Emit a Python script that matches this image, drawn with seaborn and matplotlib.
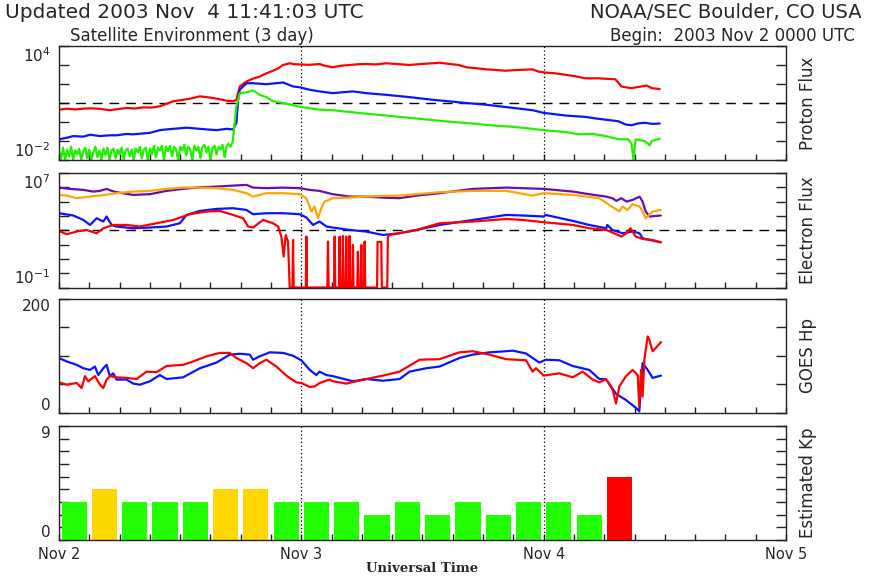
import numpy as np
import matplotlib
matplotlib.use("Agg")
import matplotlib.pyplot as plt
import seaborn as sns
from matplotlib.ticker import FixedLocator, NullLocator, FuncFormatter

# ---------------------------------------------------------------
# Hours since 2003 Nov 2 00:00 UTC; flux values are given as log10
# ---------------------------------------------------------------

# Proton flux  (>=10 MeV red, >=50 MeV blue, >=100 MeV green)
p10_t = [0.0, 0.8, 1.6, 2.4, 3.2, 4.06, 5.04, 5.8, 6.69, 7.5, 8.34, 9.2, 9.99, 10.6,
         11.31, 12.3, 13.1, 13.95, 14.6, 15.27, 15.9, 16.58, 17.24, 17.57, 17.9, 18.56,
         19.2, 19.88, 20.5, 21.2, 21.7, 22.19, 22.85, 23.3, 23.84, 24.8, 25.8, 26.4,
         27.1, 27.9, 28.8, 29.6, 30.4, 31.4, 32.4, 33.5, 34.7, 35.8, 37.0, 37.7,
         38.6, 39.6, 40.3, 41.3, 42.3, 43.2, 44.2, 45.5, 46.9, 47.5, 48.2, 49.2,
         50.2, 51.2, 52.1, 53.4, 54.3, 55.1, 55.7, 56.2, 56.7, 57.2, 57.7, 58.2,
         58.7, 59.1, 59.5]
p10_v = [0.65, 0.70, 0.66, 0.70, 0.72, 0.69, 0.62, 0.68, 0.74, 0.71, 0.77, 0.76, 0.83, 0.95,
         1.09, 1.17, 1.24, 1.35, 1.31, 1.26, 1.20, 1.12, 1.09, 1.17, 1.87, 2.13,
         2.28, 2.39, 2.55, 2.70, 2.82, 3.00, 3.09, 3.04, 3.03, 3.01, 3.05, 2.95,
         2.88, 2.96, 3.00, 3.04, 3.05, 3.03, 3.09, 3.05, 3.00, 3.05, 3.09, 3.12,
         3.06, 3.00, 2.88, 2.83, 2.77, 2.74, 2.70, 2.74, 2.77, 2.65, 2.60, 2.56,
         2.48, 2.40, 2.30, 2.30, 2.27, 2.25, 1.87, 1.82, 1.78, 1.83, 1.87, 1.92,
         1.78, 1.76, 1.73]

p50_t = [0.0, 0.76, 1.42, 2.41, 3.07, 4.06, 5.04, 5.70, 6.69, 7.35, 8.34, 9.0, 9.99,
         10.65, 11.31, 12.63, 13.95, 15.6, 16.58, 17.24, 17.57, 17.74, 17.9, 18.56,
         19.22, 20.54, 22.19, 23.18, 23.84, 24.8, 25.8, 27.1, 29.1, 30.4, 32.4, 34.7,
         37.0, 38.6, 40.3, 42.3, 44.2, 46.9, 48.0, 50.2, 52.1, 53.4, 55.4, 56.1,
         56.7, 57.3, 58.0, 58.8, 59.5]
p50_v = [-0.91, -0.83, -0.74, -0.77, -0.67, -0.74, -0.70, -0.70, -0.63, -0.65, -0.60, -0.57, -0.43,
         -0.39, -0.36, -0.30, -0.36, -0.43, -0.36, -0.39, -0.04, 1.17, 1.70, 2.04,
         2.04, 1.99, 2.08, 1.87, 1.83, 1.70, 1.61, 1.52, 1.61, 1.52, 1.43, 1.31,
         1.17, 1.09, 1.00, 0.91, 0.79, 0.62, 0.48, 0.34, 0.27, 0.17, 0.04, -0.13,
         -0.17, -0.08, -0.04, -0.10, -0.08]

p100_t = [0.0, 0.2, 0.4, 0.6, 0.8, 1.0, 1.2, 1.4, 1.6, 1.8, 2.0, 2.2, 2.4, 2.6, 2.8,
          3.0, 3.2, 3.4, 3.6, 3.8, 4.0, 4.2, 4.4, 4.6, 4.8, 5.0, 5.2, 5.4, 5.6, 5.8,
          6.0, 6.2, 6.4, 6.6, 6.8, 7.0, 7.2, 7.4, 7.6, 7.8, 8.0, 8.2, 8.4, 8.6, 8.8,
          9.0, 9.2, 9.4, 9.6, 9.8, 10.0, 10.2, 10.4, 10.6, 10.8, 11.0, 11.2, 11.4,
          11.6, 11.8, 12.0, 12.2, 12.4, 12.6, 12.8, 13.0, 13.2, 13.4, 13.6, 13.8,
          14.0, 14.2, 14.4, 14.6, 14.8, 15.0, 15.2, 15.4, 15.6, 15.8, 16.0, 16.2,
          16.4, 16.6, 16.8, 17.0, 17.2, 17.4, 17.57, 17.9, 18.56, 19.22, 19.88,
          20.54, 21.2, 22.5, 23.84, 25.8, 27.1, 29.1, 30.4, 32.4, 34.7, 37.0, 39.0,
          40.9, 42.9, 44.9, 46.9, 48.0, 50.2, 51.5, 52.8, 54.1, 55.4, 56.4, 56.7,
          56.9, 57.1, 58.0, 58.5, 58.7, 59.5]
p100_v = [-1.55, -1.95, -1.35, -2.0, -1.45, -1.8, -1.3, -2.0, -1.5, -1.7, -1.4, -2.0, -1.55, -1.35, -1.9,
          -1.45, -2.0, -1.6, -1.3, -1.85, -1.5, -2.0, -1.4, -1.75, -1.35, -2.0, -1.5, -1.4, -1.9, -1.45,
          -1.7, -1.35, -2.0, -1.5, -1.4, -1.8, -1.45, -2.0, -1.4, -1.6, -1.3, -1.9, -1.45, -1.35, -2.0,
          -1.4, -1.7, -1.25, -1.85, -1.35, -1.5, -1.25, -2.0, -1.3, -1.55, -1.25, -1.8, -1.3,
          -1.45, -2.0, -1.3, -1.5, -1.2, -1.75, -1.3, -1.45, -2.0, -1.25, -1.5, -1.3,
          -1.9, -1.35, -1.2, -1.6, -1.3, -2.0, -1.35, -1.25, -1.7, -1.3, -1.45, -1.2,
          -1.85, -1.25, -1.15, -1.3, -1.05, -0.04, 0.83, 1.52, 1.56, 1.66, 1.43,
          1.31, 1.09, 0.97, 0.80, 0.65, 0.62, 0.51, 0.44, 0.34, 0.22, 0.10, 0.00,
          -0.08, -0.18, -0.25, -0.36, -0.43, -0.53, -0.65, -0.62, -0.74, -0.91, -0.91, -1.17,
          -2.0, -0.91, -1.00, -1.23, -1.00, -0.88]

# Electron flux (>=0.6 MeV / >=2 MeV from two spacecraft)
e_purple_t = [0.0, 1.09, 2.41, 3.40, 4.06, 4.71, 5.21, 5.70, 7.35, 9.0, 10.65, 12.3, 13.95,
              15.6, 17.24, 18.56, 19.22, 20.54, 22.19, 23.84, 24.83, 25.8, 27.1, 28.8,
              30.4, 32.1, 33.7, 35.4, 37.7, 41.0, 44.3, 45.9, 48.0, 50.9, 52.5, 54.2,
              54.8, 55.2, 55.7, 56.2, 56.8, 57.5, 57.8, 58.1, 58.5, 59.6]
e_purple_v = [5.98, 5.89, 5.82, 5.70, 5.75, 5.89, 5.75, 5.66, 5.47, 5.52, 5.75, 5.89, 6.00,
              6.05, 6.12, 6.17, 5.98, 5.94, 5.98, 5.94, 5.82, 5.75, 5.52, 5.35,
              5.35, 5.28, 5.24, 5.42, 5.59, 5.89, 5.98, 5.94, 5.89, 5.70, 5.52, 5.35,
              5.24, 5.05, 5.24, 5.00, 5.12, 5.35, 5.00, 4.31, 3.96, 4.03]

e_orange_t = [0.0, 0.76, 1.75, 3.07, 4.06, 5.70, 7.35, 9.0, 10.65, 12.3, 13.95, 15.6, 17.24,
              18.56, 19.22, 19.88, 20.54, 22.19, 23.84, 24.5, 25.0, 25.3, 25.65, 25.98,
              26.3, 27.1, 28.8, 30.4, 32.1, 33.7, 35.4, 37.7, 41.0, 44.3, 46.9, 48.0,
              50.9, 53.5, 54.5, 55.0, 55.5, 55.8, 56.3, 56.8, 57.5, 57.8, 58.1, 58.8, 59.6]
e_orange_v = [5.47, 5.42, 5.24, 5.35, 5.42, 5.59, 5.70, 5.75, 5.89, 5.98, 5.98, 5.94, 5.82,
              5.59, 5.35, 5.47, 5.59, 5.59, 5.52, 5.24, 4.31, 4.66, 3.84, 4.54,
              5.00, 5.24, 5.28, 5.35, 5.40, 5.42, 5.52, 5.66, 5.75, 5.75, 5.42, 5.59,
              5.47, 5.24, 4.77, 4.54, 4.31, 4.66, 4.42, 4.82, 4.66, 4.31, 3.84, 4.31, 4.42]

e_blue_t = [0.0, 1.42, 2.41, 3.07, 3.73, 4.39, 4.71, 5.21, 5.70, 7.35, 9.0, 10.65, 11.97,
            12.63, 13.95, 15.6, 17.24, 18.56, 19.22, 20.54, 22.19, 23.84, 24.5, 25.16,
            25.8, 26.5, 27.1, 28.8, 30.4, 32.1, 33.7, 35.4, 37.7, 41.0, 44.3, 45.9,
            48.0, 48.2, 50.9, 52.5, 54.2, 54.3, 54.8, 55.8, 56.8, 57.5, 57.8, 58.5, 59.6]
e_blue_v = [4.19, 4.03, 3.72, 3.37, 3.84, 3.61, 3.96, 3.37, 3.26, 3.14, 3.19, 3.26, 3.49,
            4.07, 4.35, 4.49, 4.54, 4.42, 4.12, 4.19, 4.19, 4.12, 3.89, 3.37,
            3.61, 3.26, 3.19, 3.02, 2.91, 2.67, 2.79, 3.02, 3.37, 3.72, 4.07, 4.03,
            3.96, 4.07, 3.65, 3.37, 3.14, 3.37, 3.02, 2.79, 2.91, 2.79, 2.44, 2.32, 2.16]

# -1.0 marks dropouts sitting on the lower edge of the plot
e_red_t = [0.0, 0.76, 1.75, 2.74, 3.73, 4.39, 5.37, 6.69, 8.01, 9.66, 11.31, 12.96, 14.61,
           15.92, 17.24, 18.23, 18.73, 19.22, 20.21, 21.2, 21.7, 22.02, 22.25, 22.45,
           22.68, 22.85, 23.12, 23.18, 23.24, 24.44, 24.5, 24.56, 26.58, 26.64, 26.7,
           27.24, 27.3, 27.36, 27.73, 27.79, 27.85, 28.06, 28.12, 28.18, 28.39, 28.45,
           28.51, 28.72, 28.78, 28.84, 29.05, 29.11, 29.17, 29.54, 29.6, 29.66, 29.88,
           29.94, 30.0, 30.21, 30.27, 30.33, 31.50, 31.55, 31.92, 31.97, 32.51, 32.57,
           32.74, 33.7, 35.4, 37.7, 41.0, 44.3, 45.9, 48.0, 50.9, 52.5, 54.2, 55.2,
           55.7, 56.2, 56.6, 57.1, 57.8, 58.8, 59.6]
e_red_v = [2.95, 2.72, 2.91, 3.02, 2.79, 3.14, 3.37, 3.37, 3.26, 3.49, 3.72, 4.12, 4.31,
           4.35, 4.07, 3.84, 3.26, 3.19, 3.72, 3.49, 3.26, 2.56, 1.16, 2.67,
           2.21, -1.0, -1.0, 2.32, -1.0, -1.0, 2.56, -1.0, -1.0, 2.21, -1.0,
           -1.0, 2.56, -1.0, -1.0, 2.56, -1.0, -1.0, 2.60, -1.0, -1.0, 2.56,
           -1.0, -1.0, 2.60, -1.0, -1.0, 1.97, -1.0, -1.0, 1.50, -1.0, -1.0,
           1.97, -1.0, -1.0, 2.21, -1.0, -1.0, 2.18, 2.18, -1.0, -1.0, 2.56,
           2.67, 2.79, 3.02, 3.49, 3.61, 3.79, 3.72, 3.56, 3.37, 3.14, 3.02, 2.72,
           2.56, 2.79, 3.14, 2.56, 2.39, 2.32, 2.16]

# GOES Hp magnetic field (nT), two spacecraft
hp_blue_t = [0.0, 0.76, 1.75, 2.41, 3.07, 3.56, 3.89, 4.39, 4.71, 5.04, 5.37, 5.70, 6.69,
             7.35, 8.01, 9.0, 9.99, 10.65, 12.3, 13.95, 15.6, 16.91, 17.9, 18.89, 19.22,
             19.88, 20.87, 22.19, 23.18, 24.0, 24.83, 25.49, 25.8, 26.47, 27.13, 28.45,
             29.11, 30.43, 32.08, 33.73, 34.72, 36.37, 37.69, 39.65, 40.97, 42.62, 44.27,
             44.93, 46.25, 47.57, 48.23, 49.55, 50.87, 52.52, 53.51, 54.17, 55.16, 56.15,
             57.14, 57.47, 57.8, 58.3, 58.79, 59.62]
hp_blue_v = [96, 90, 84, 78, 75, 81, 66, 78, 84, 64, 69, 58, 58,
             51, 49, 55, 66, 59, 62, 78, 88, 102, 103.5, 102, 93,
             99, 106, 105, 100, 92, 75, 66, 72, 66, 64, 58,
             55, 59, 56, 59, 72, 78, 81, 96, 102, 106, 108,
             109, 104, 88, 93, 92, 82, 75, 59, 59, 33, 22,
             8, 2, 87, 75, 61, 65]

hp_red_t = [0.0, 0.76, 1.75, 2.24, 2.57, 2.9, 3.56, 4.06, 4.39, 4.71, 5.04, 5.70, 6.69,
            7.68, 8.67, 9.66, 10.65, 12.3, 13.29, 14.61, 15.92, 16.91, 17.57, 18.56,
            19.22, 19.88, 20.54, 21.53, 22.52, 23.51, 24.0, 24.83, 25.32, 25.82, 26.8,
            27.13, 28.45, 30.43, 32.08, 33.73, 35.71, 37.69, 39.65, 40.97, 42.62, 44.27,
            46.25, 46.91, 47.24, 48.0, 49.55, 50.87, 51.86, 52.85, 53.51, 54.17, 54.83,
            55.16, 55.49, 56.15, 56.81, 57.31, 57.47, 57.64, 57.8, 57.97, 58.3, 58.46,
            58.79, 59.12, 59.62]
hp_red_v = [53, 49, 52, 43, 64, 55, 64, 49, 43, 58, 64, 62, 61,
            59, 72, 71, 82, 84, 90, 99, 105, 105, 96, 87,
            78, 87, 93, 81, 65, 53, 52, 45, 46, 52, 58,
            55, 51, 59, 65, 72, 93, 94, 106, 108, 102, 94,
            92, 72, 78, 65, 69, 62, 72, 58, 53, 59, 40,
            16, 46, 64, 75, 66, 11, 75, 28, 93, 134, 128,
            108, 114, 124]

# Estimated planetary Kp, 3-hour intervals
kp_t = [1.5, 4.5, 7.5, 10.5, 13.5, 16.5, 19.5, 22.5, 25.5, 28.5, 31.5, 34.5, 37.5,
        40.5, 43.5, 46.5, 49.5, 52.5, 55.5]
kp_v = [3, 4, 3, 3, 3, 4, 4, 3, 3, 3, 2, 3, 2, 3, 2, 3, 3, 2, 5]

day_ticks = [0, 24, 48, 72]
day_labels = ["Nov 2", "Nov 3", "Nov 4", "Nov 5"]

# ---------------------------------------------------------------
sns.set_theme(style="white")
plt.rcParams["font.family"] = ["DejaVu Sans"]
plt.rcParams["mathtext.fontset"] = "dejavusans"

W, H = 879, 576
fig = plt.figure(figsize=(W / 100, H / 100), dpi=100)
fig.patch.set_facecolor("white")


def box(top, bottom):
    return [59 / W, 1 - bottom / H, (786 - 59) / W, (bottom - top) / H]


ax1 = fig.add_axes(box(46, 160))
ax2 = fig.add_axes(box(173, 287.5))
ax3 = fig.add_axes(box(299, 412.5))
ax4 = fig.add_axes(box(426, 540))
axes = [ax1, ax2, ax3, ax4]

RED, BLUE, GREEN = "#ff0000", "#0a14ff", "#22f000"
PURPLE, ORANGE = "#6a0dad", "#ffa500"


def trace(ax, t, v, color, log=False):
    y = np.power(10.0, v) if log else np.asarray(v, dtype=float)
    sns.lineplot(x=np.asarray(t, dtype=float), y=y, ax=ax, color=color, lw=1.6,
                 estimator=None, sort=False, legend=False)


ax1.set_yscale("log")
ax2.set_yscale("log")

trace(ax1, p10_t, p10_v, RED, log=True)
trace(ax1, p50_t, p50_v, BLUE, log=True)
trace(ax1, p100_t, p100_v, GREEN, log=True)

trace(ax2, e_purple_t, e_purple_v, PURPLE, log=True)
trace(ax2, e_orange_t, e_orange_v, ORANGE, log=True)
trace(ax2, e_blue_t, e_blue_v, BLUE, log=True)
trace(ax2, e_red_t, e_red_v, RED, log=True)

trace(ax3, hp_blue_t, hp_blue_v, BLUE)
trace(ax3, hp_red_t, hp_red_v, RED)

kp_level = ["storm" if k >= 5 else ("active" if k == 4 else "quiet") for k in kp_v]
sns.barplot(x=kp_t, y=kp_v, hue=kp_level, native_scale=True, dodge=False,
            palette={"quiet": "#22ff00", "active": "#ffd700", "storm": "#ff0000"},
            width=0.83, saturation=1, legend=False, ax=ax4, linewidth=0)

# threshold lines
ax1.axhline(10, color="black", lw=1.0, ls=(0, (7, 5)), zorder=1)
ax2.axhline(1000, color="black", lw=1.0, ls=(0, (7, 5)), zorder=1)

ranges = [(1e-2, 1e4), (1e-1, 1e7), (0, 200), (0, 9)]
yticks = [[10.0 ** k for k in range(-2, 5)], [10.0 ** k for k in range(-1, 8)],
          [0, 50, 100, 150, 200], list(range(0, 10))]
end_labels = [(r"$10^{-2}$", r"$10^{4}$"), (r"$10^{-1}$", r"$10^{7}$"),
              ("0", "200"), ("0", "9")]
side_titles = ["Proton Flux", "Electron Flux", "GOES Hp", "Estimated Kp"]

for ax, (lo, hi), yt, (lab_lo, lab_hi), name in zip(axes, ranges, yticks, end_labels, side_titles):
    ax.set_facecolor("white")
    ax.set_xlim(0, 72)
    ax.set_ylim(lo, hi)
    ax.xaxis.set_major_locator(FixedLocator(list(range(0, 73, 3))))
    ax.xaxis.set_minor_locator(NullLocator())
    ax.yaxis.set_major_locator(FixedLocator(yt))
    ax.yaxis.set_minor_locator(NullLocator())
    ax.tick_params(axis="x", which="major", direction="in", length=4, width=1,
                   bottom=True, top=False, labelbottom=False, color="#222222")
    ax.tick_params(axis="y", which="major", direction="in", length=7, width=1,
                   left=True, right=True, labelleft=False, labelright=False,
                   color="#222222")
    for sp in ax.spines.values():
        sp.set_visible(True)
        sp.set_color("#222222")
        sp.set_linewidth(1.0)
    for d in (24, 48):
        ax.axvline(d, color="black", lw=0.9, ls=(0, (1, 2)), zorder=1)
    ax.set_xlabel("")
    ax.set_ylabel("")
    ytr = ax.get_yaxis_transform()
    ax.text(-0.012, hi, lab_hi, transform=ytr, ha="right", va="top", fontsize=11)
    ax.text(-0.012, lo, lab_lo, transform=ytr, ha="right", va="bottom", fontsize=11)
    ax.text(1.030, 0.5, name, transform=ax.transAxes, rotation=90,
            ha="center", va="center", fontsize=12)

# day labels under the bottom panel
ax4.tick_params(axis="x", labelbottom=True, pad=5, labelsize=10.5)
ax4.xaxis.set_major_formatter(
    FuncFormatter(lambda x, p: day_labels[day_ticks.index(int(round(x)))]
                  if int(round(x)) in day_ticks and abs(x - round(x)) < 1e-6 else ""))
ax4.set_xlabel("")
fig.text(422 / W, 1 - 569 / H, "Universal Time", fontfamily="DejaVu Serif",
         fontweight="bold", fontsize=9.5, ha="center", va="center")

# header
fig.text(5 / W, 1 - 13 / H, "Updated 2003 Nov  4 11:41:03 UTC", ha="left",
         va="center", fontsize=14.5)
fig.text(862 / W, 1 - 13 / H, "NOAA/SEC Boulder, CO USA", ha="right",
         va="center", fontsize=14)
fig.text(70 / W, 1 - 36 / H, "Satellite Environment (3 day)", ha="left",
         va="center", fontsize=12)
fig.text(855 / W, 1 - 36 / H, "Begin:  2003 Nov 2 0000 UTC", ha="right",
         va="center", fontsize=12)

fig.savefig("out.png", dpi=100, facecolor="white")
